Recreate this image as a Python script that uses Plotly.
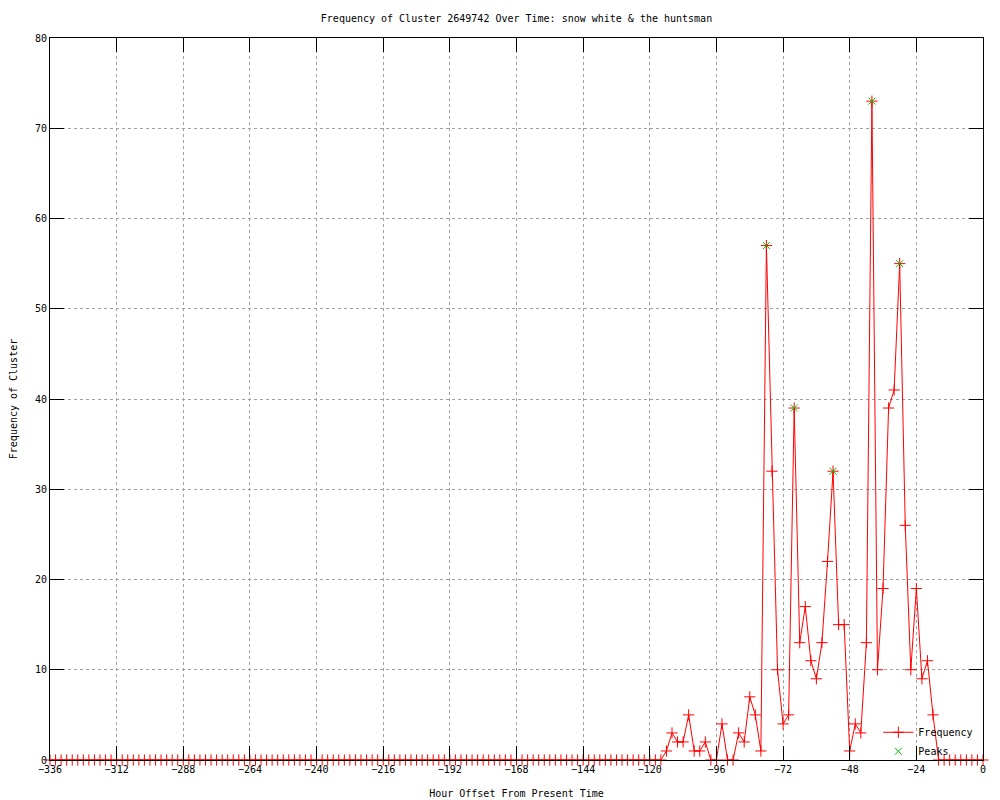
import plotly.graph_objects as go

# Hours: -336 .. 0 every 2 hours
hours = list(range(-336, 1, 2))

# Non-zero frequency values (hour -> count)
active_hours = [-114, -112, -110, -108, -106, -104, -102, -100, -98, -96, -94, -92, -90,
                -88, -86, -84, -82, -80, -78, -76, -74, -72, -70, -68, -66, -64, -62,
                -60, -58, -56, -54, -52, -50, -48, -46, -44, -42, -40, -38, -36, -34,
                -32, -30, -28, -26, -24, -22, -20, -18, -16]
active_values = [1, 3, 2, 2, 5, 1, 1, 2, 0, 0, 4, 0, 0,
                 3, 2, 7, 5, 1, 57, 32, 10, 4, 5, 39, 13, 17, 11,
                 9, 13, 22, 32, 15, 15, 1, 4, 3, 13, 73, 10, 19, 39,
                 41, 55, 26, 10, 19, 9, 11, 5, 0]

lookup = dict(zip(active_hours, active_values))
frequency = [lookup.get(h, 0) for h in hours]

peak_hours = [-78, -68, -54, -40, -30]
peak_values = [57, 39, 32, 73, 55]

x_ticks = list(range(-336, 1, 24))
y_ticks = list(range(0, 81, 10))

FONT = "DejaVu Sans Mono"
W, H = 992, 792

fig = go.Figure()
fig.add_trace(go.Scatter(
    x=hours, y=frequency, mode="lines+markers", name="Frequency",
    line=dict(color="#ff0000", width=1),
    marker=dict(symbol="cross-thin-open", size=8, color="#ff0000",
                line=dict(color="#ff0000", width=1)),
    cliponaxis=False,
))
fig.add_trace(go.Scatter(
    x=peak_hours, y=peak_values, mode="markers", name="Peaks",
    marker=dict(symbol="x-thin-open", size=7, color="#00c000",
                line=dict(color="#00c000", width=1)),
))

axis_common = dict(
    showline=True, linecolor="black", linewidth=1, mirror="ticks",
    ticks="inside", ticklen=14, tickcolor="black", tickwidth=1,
    showgrid=True, gridcolor="#a0a0a0", gridwidth=1, griddash="3px,3px",
    zeroline=False, automargin=False,
    tickfont=dict(family=FONT, size=10, color="black"),
)

fig.update_layout(
    width=W, height=H,
    paper_bgcolor="white", plot_bgcolor="white",
    margin=dict(l=42, r=17, t=30, b=40, autoexpand=False),
    title=dict(text="Frequency of Cluster 2649742 Over Time: snow white & the huntsman",
               x=(42 + 975) / 2 / W, xanchor="center", y=1 - 10 / H, yanchor="middle",
               automargin=False,
               font=dict(family=FONT, size=10, color="black")),
    font=dict(family=FONT, size=10, color="black"),
    xaxis=dict(range=[-336, 0], tickvals=x_ticks,
               title=dict(text="Hour Offset From Present Time", standoff=15,
                          font=dict(family=FONT, size=10)),
               **axis_common),
    yaxis=dict(range=[0, 80], tickvals=y_ticks,
               title=dict(text="Frequency of Cluster", standoff=15,
                          font=dict(family=FONT, size=10)),
               **axis_common),
    legend=dict(x=0.995, y=-0.008, xanchor="right", yanchor="bottom",
                bgcolor="rgba(0,0,0,0)", font=dict(family=FONT, size=10),
                tracegroupgap=0),
    showlegend=True,
)

fig.write_html("out.html")
